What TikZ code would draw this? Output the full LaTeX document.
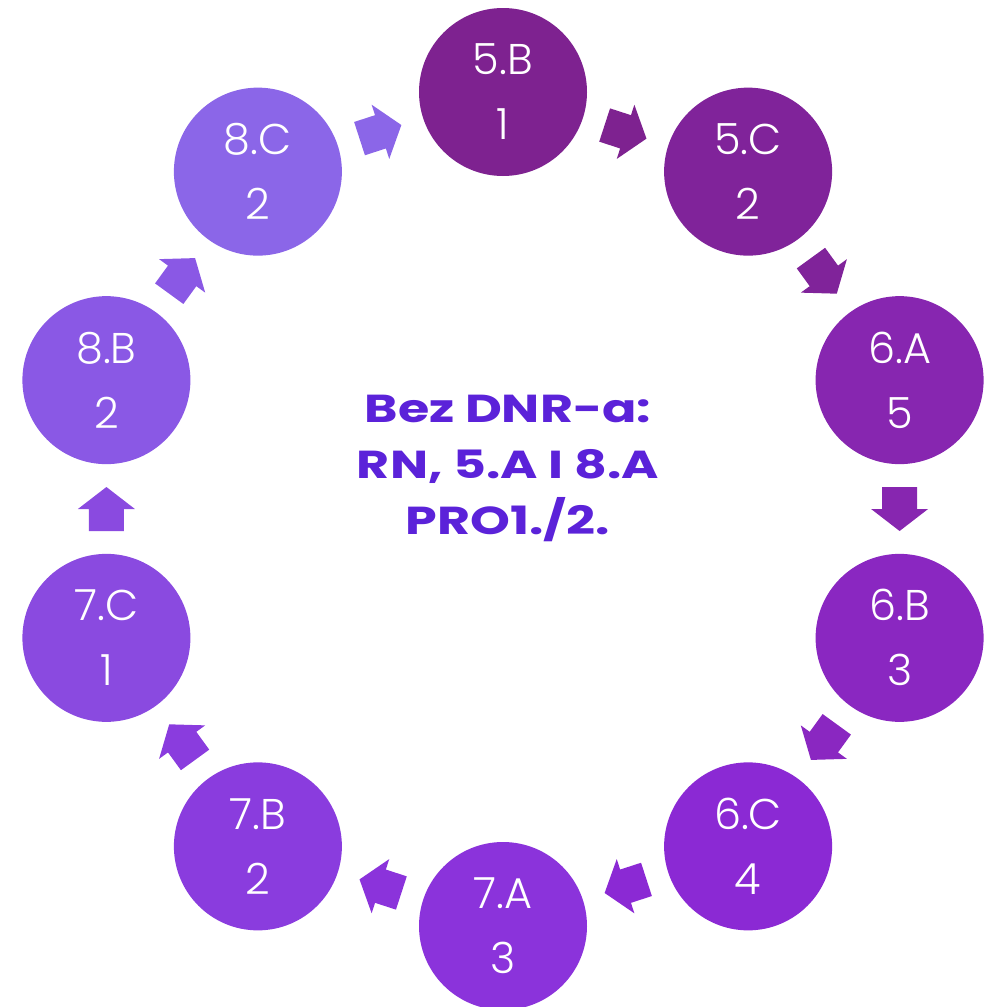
\documentclass[tikz,border=0pt]{standalone}
\usepackage{fontspec}
\usetikzlibrary{calc}
\newfontfamily\circfont{Poppins Light}
\newfontfamily\comicfont{Poppins}[FakeStretch=1.3]
\definecolor{k0}{HTML}{7E2290}
\definecolor{k1}{HTML}{80239A}
\definecolor{k2}{HTML}{8726B0}
\definecolor{k3}{HTML}{8A27C1}
\definecolor{k4}{HTML}{8B29D4}
\definecolor{k5}{HTML}{8B33DB}
\definecolor{k6}{HTML}{8A3CDE}
\definecolor{k7}{HTML}{8A4AE0}
\definecolor{k8}{HTML}{8A58E5}
\definecolor{k9}{HTML}{8B66E8}
\definecolor{ctext}{HTML}{5B22D9}
\begin{document}
\begin{tikzpicture}[x=1pt,y=1pt,
  circ/.style={circle, minimum size=168pt, inner sep=0pt, text=white,
    font=\circfont\fontsize{43}{65}\selectfont, align=center},
  blockarrow/.style={draw=none}]
\useasboundingbox (0,0) rectangle (990,-1007);
\coordinate (ctr) at (503,-509);
\foreach \i/\lab/\num in {0/5.B/1,1/5.C/2,2/6.A/5,3/6.B/3,4/6.C/4,5/7.A/3,6/7.B/2,7/7.C/1,8/8.B/2,9/8.C/2}{
  \node[circ, fill=k\i] (c\i) at ($(ctr)+({90-36*\i}:417)$) {\lab\\\num};
}
\foreach \i in {0,...,9}{
  \pgfmathtruncatemacro\j{mod(\i+1,10)}
  \coordinate (m\i) at ($(c\i.center)!0.5!(c\j.center)$);
  \fill[blockarrow, k\i, shift={(m\i)}, rotate={-18-36*\i}]
    (-22,-17.5) -- (0,-17.5) -- (0,-28.5) -- (22,0) -- (0,28.5) -- (0,17.5) -- (-22,17.5) -- cycle;
}
\node[text=ctext, font=\comicfont\bfseries\fontsize{39}{56}\selectfont, align=center] (title) at (508,-468)
  {Bez DNR-a:\\RN, 5.A I 8.A\\PRO1./2.};
\end{tikzpicture}
\end{document}
